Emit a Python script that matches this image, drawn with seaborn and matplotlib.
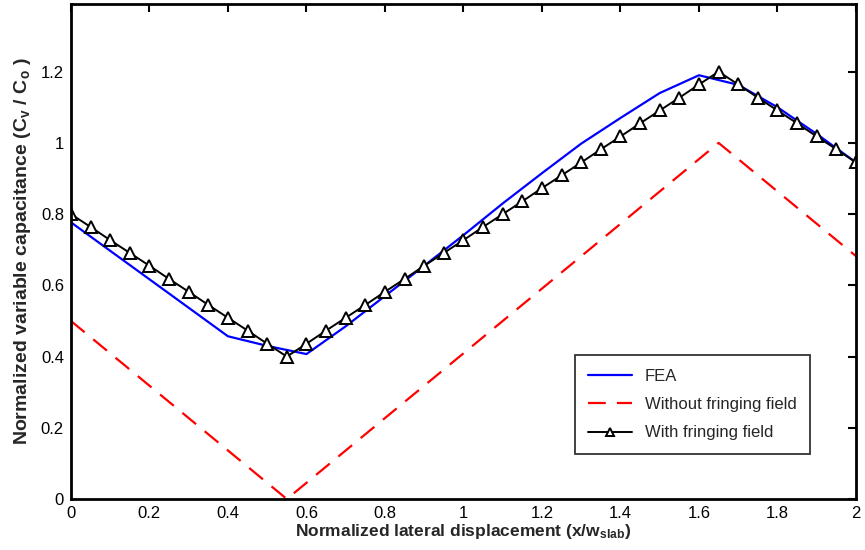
import matplotlib
matplotlib.use("Agg")
import matplotlib.pyplot as plt
import seaborn as sns
import pandas as pd

# FEA simulation result
fea_x = [0.0, 0.4, 0.5, 0.6, 0.7, 0.8, 0.9, 1.0, 1.1, 1.2, 1.3, 1.4, 1.5, 1.6, 1.7, 1.8, 1.9, 2.0]
fea_y = [0.777, 0.457, 0.430, 0.407, 0.485, 0.570, 0.655, 0.741, 0.830, 0.915, 0.998, 1.070, 1.140, 1.190, 1.163, 1.100, 1.025, 0.945]

# Analytical model without fringing field
nofringe_x = [0.0, 0.55, 1.65, 2.0]
nofringe_y = [0.50, 0.0, 1.0, 0.682]

# Analytical model with fringing field
fringe_x = [0.0, 0.05, 0.10, 0.15, 0.20, 0.25, 0.30, 0.35, 0.40, 0.45, 0.50, 0.55,
            0.60, 0.65, 0.70, 0.75, 0.80, 0.85, 0.90, 0.95, 1.00, 1.05, 1.10, 1.15,
            1.20, 1.25, 1.30, 1.35, 1.40, 1.45, 1.50, 1.55, 1.60, 1.65,
            1.70, 1.75, 1.80, 1.85, 1.90, 1.95, 2.00]
fringe_y = [0.800, 0.764, 0.727, 0.691, 0.655, 0.618, 0.582, 0.545, 0.509, 0.473, 0.436, 0.400,
            0.436, 0.473, 0.509, 0.545, 0.582, 0.618, 0.655, 0.691, 0.727, 0.764, 0.800, 0.836,
            0.873, 0.909, 0.945, 0.982, 1.018, 1.055, 1.091, 1.127, 1.164, 1.200,
            1.164, 1.127, 1.091, 1.055, 1.018, 0.982, 0.945]

x_ticks = [0, 0.2, 0.4, 0.6, 0.8, 1, 1.2, 1.4, 1.6, 1.8, 2]
x_tick_labels = ["0", "0.2", "0.4", "0.6", "0.8", "1", "1.2", "1.4", "1.6", "1.8", "2"]
y_ticks = [0, 0.2, 0.4, 0.6, 0.8, 1, 1.2]
y_tick_labels = ["0", "0.2", "0.4", "0.6", "0.8", "1", "1.2"]

sns.set_style("white")
plt.rcParams["font.family"] = ["Liberation Sans", "DejaVu Sans"]
plt.rcParams["mathtext.fontset"] = "custom"
plt.rcParams["mathtext.rm"] = "Liberation Sans:bold"
plt.rcParams["mathtext.it"] = "Liberation Sans:bold"
plt.rcParams["mathtext.bf"] = "Liberation Sans:bold"

fea = pd.DataFrame({"x": fea_x, "y": fea_y})
nof = pd.DataFrame({"x": nofringe_x, "y": nofringe_y})
wf = pd.DataFrame({"x": fringe_x, "y": fringe_y})

fig = plt.figure(figsize=(8.65, 5.5), dpi=100)
ax = fig.add_axes([0.082, 0.0927, 0.9076, 0.9])

sns.lineplot(data=fea, x="x", y="y", ax=ax, color="#0000ff", lw=1.6,
             label="FEA", sort=False, estimator=None)
sns.lineplot(data=nof, x="x", y="y", ax=ax, color="#ff0000", lw=1.6,
             label="Without fringing field", sort=False, estimator=None,
             dashes=False, linestyle=(0, (8, 5)))
sns.lineplot(data=wf, x="x", y="y", ax=ax, color="black", lw=1.4,
             marker="^", markersize=8, markerfacecolor="white",
             markeredgecolor="black", markeredgewidth=1.4,
             label="With fringing field", sort=False, estimator=None)

ax.set_xlim(0, 2)
ax.set_ylim(0, 1.39)
ax.set_xticks(x_ticks)
ax.set_xticklabels(x_tick_labels)
ax.set_yticks(y_ticks)
ax.set_yticklabels(y_tick_labels)
ax.tick_params(direction="in", length=6, width=1.5, top=True, right=True,
               labelsize=12, colors="black", pad=5)

for s in ax.spines.values():
    s.set_visible(True)
    s.set_linewidth(2)
    s.set_color("black")

ax.set_xlabel(r"Normalized lateral displacement (x/w$_{\mathrm{slab}}$)",
              fontsize=12.5, fontweight="bold", labelpad=1)
ax.set_ylabel(r"Normalized variable capacitance (C$_{\mathrm{v}}$ / C$_{\mathrm{o}}$ )",
              fontsize=14, fontweight="bold", labelpad=6)

leg = ax.legend(loc="upper left", bbox_to_anchor=(0.642, 0.290),
                borderaxespad=0, fontsize=12, frameon=True, fancybox=False,
                edgecolor="black", handlelength=2.6, borderpad=0.8,
                labelspacing=0.8, markerscale=0.7)
leg.get_frame().set_linewidth(1.3)

fig.savefig("out.png", dpi=100)
